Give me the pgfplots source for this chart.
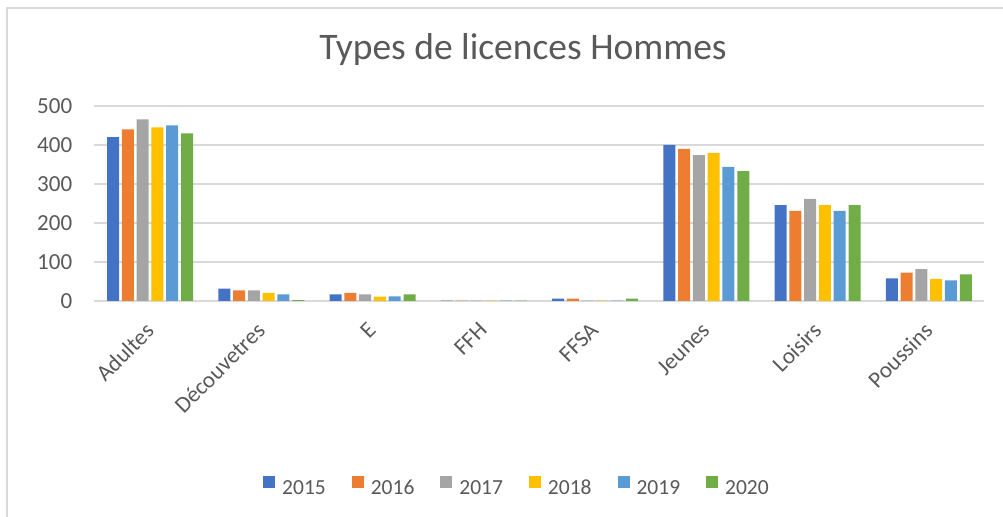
\documentclass[border=0pt]{standalone}
\usepackage{pgfplots}
\pgfplotsset{compat=1.18}
\usepackage{fontspec}
\setmainfont{Carlito}
\definecolor{c1}{HTML}{4472C4}
\definecolor{c2}{HTML}{ED7D31}
\definecolor{c3}{HTML}{A5A5A5}
\definecolor{c4}{HTML}{FFC000}
\definecolor{c5}{HTML}{5B9BD5}
\definecolor{c6}{HTML}{70AD47}
\definecolor{gridc}{HTML}{D9D9D9}
\definecolor{txt}{HTML}{595959}
\begin{document}
\begin{tikzpicture}[x=1bp,y=1bp]
\useasboundingbox (0,0) rectangle (1003,517);
\draw[gridc, line width=1.5bp] (7,0) -- (7,509) -- (1003,509);
\node[txt, font=\fontsize{37.5bp}{40bp}\selectfont] at (523,467) {Types de licences Hommes};
\begin{axis}[
  at={(94.4bp,216bp)}, anchor=south west,
  scale only axis, width=890bp, height=195bp,
  ymin=0, ymax=500, xmin=-0.5, xmax=7.5,
  ytick={0,100,...,500},
  xtick={0,...,7},
  xticklabels={Adultes,Découvetres,E,FFH,FFSA,Jeunes,Loisirs,Poussins},
  xmajorgrids=false, ymajorgrids=true,
  major grid style={draw=gridc, line width=1.5bp},
  axis x line*=bottom, axis y line*=left,
  x axis line style={draw=gridc, line width=1.5bp, -},
  y axis line style={draw=none},
  major tick length=0pt,
  xticklabel style={txt, font=\fontsize{23bp}{26bp}\selectfont, xshift=-6bp, yshift=-20bp, rotate=45, anchor=north east, inner sep=0pt},
  yticklabel style={txt, font=\fontsize{23bp}{26bp}\selectfont, anchor=east, inner sep=0pt, xshift=-22bp},
  /pgf/number format/assume math mode=true,
  ybar=2.8bp, bar width=12bp,
  legend style={at={(0.4737,-0.944)}, anchor=center, legend columns=6, draw=none,
    nodes={font=\fontsize{21.5bp}{24bp}\selectfont, text=txt, inner sep=0pt, anchor=west, text height=15bp, text depth=0bp},
    /tikz/every odd column/.append style={column sep=7bp},
    /tikz/every even column/.append style={column sep=26bp}},
  legend image code/.code={\fill[#1] (0bp,-1bp) rectangle (12bp,11bp);},
]
\addplot[fill=c1, draw=none] coordinates {(0,420) (1,32) (2,17) (3,1) (4,6) (5,400) (6,246) (7,58)};
\addplot[fill=c2, draw=none] coordinates {(0,440) (1,27) (2,21) (3,1) (4,6) (5,390) (6,231) (7,73)};
\addplot[fill=c3, draw=none] coordinates {(0,466) (1,27) (2,17) (3,1) (4,1) (5,374) (6,262) (7,82)};
\addplot[fill=c4, draw=none] coordinates {(0,445) (1,21) (2,11) (3,1) (4,1) (5,380) (6,246) (7,57)};
\addplot[fill=c5, draw=none] coordinates {(0,450) (1,17) (2,12) (3,1) (4,1) (5,344) (6,231) (7,53)};
\addplot[fill=c6, draw=none] coordinates {(0,430) (1,2) (2,17) (3,1) (4,6) (5,333) (6,246) (7,68)};
\legend{2015,2016,2017,2018,2019,2020}
\end{axis}
\end{tikzpicture}
\end{document}
